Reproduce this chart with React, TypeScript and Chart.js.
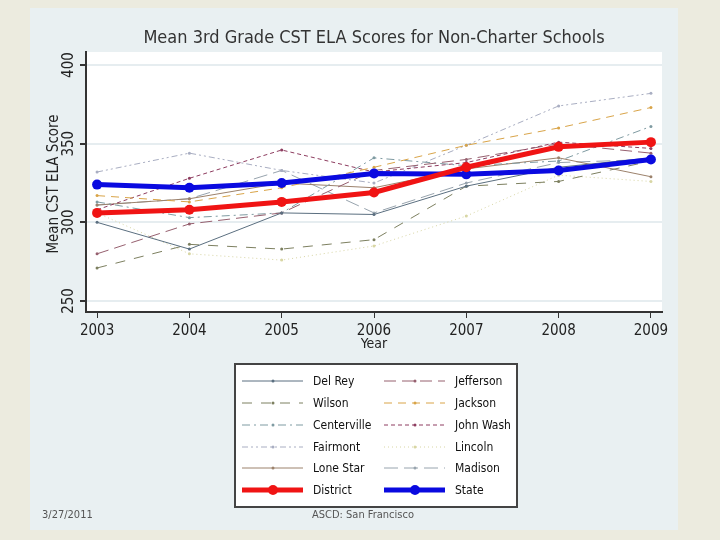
import React, { useEffect, useRef } from "react";
import { Chart, registerables } from "chart.js";

Chart.register(...registerables);

const years = [2003, 2004, 2005, 2006, 2007, 2008, 2009];
const yTicks = [250, 300, 350, 400];

const schoolNames = [
  "Del Rey", "Jefferson", "Wilson", "Jackson", "Centerville", "John Wash",
  "Fairmont", "Lincoln", "Lone Star", "Madison",
];

const delRey = [300, 283, 306, 305, 323, 335, 341];
const jefferson = [280, 299, 306, 333, 340, 350, 344];
const wilson = [271, 286, 283, 289, 323, 326, 339];
const jackson = [317, 313, 322, 335, 349, 360, 373];
const centerville = [313, 303, 306, 341, 336, 339, 361];
const johnWash = [308, 328, 346, 332, 338, 351, 347];
const fairmont = [332, 344, 333, 325, 349, 374, 382];
const lincoln = [306, 280, 276, 285, 304, 330, 326];
const loneStar = [311, 315, 325, 322, 334, 341, 329];
const madison = [311, 315, 333, 306, 325, 338, 340];
const district = [306, 308, 313, 319, 335, 348, 351];
const state = [324, 322, 325, 331, 330.5, 333, 340];

const schoolValues = [delRey, jefferson, wilson, jackson, centerville, johnWash, fairmont, lincoln, loneStar, madison];
const schoolColors = ["#5b6f80", "#96606f", "#7d8060", "#d9a448", "#7f9ba2", "#8e3d60", "#a9aec2", "#d8d6a4", "#9c826c", "#98a4ae"];
const schoolDashes: number[][] = [[], [12, 6], [10, 9], [8, 6], [8, 4, 2, 4], [4, 3], [6, 3, 2, 3, 2, 3], [1, 3], [], [14, 6]];

const FONT = "'Liberation Sans Narrow', 'DejaVu Sans Condensed', 'Liberation Sans', sans-serif";

export default function App() {
  const ref = useRef<HTMLCanvasElement | null>(null);

  useEffect(() => {
    if (!ref.current) return;
    const datasets: any[] = schoolNames.map((name, i) => ({
      label: name,
      data: years.map((y, j) => ({ x: y, y: schoolValues[i][j] })),
      borderColor: schoolColors[i],
      backgroundColor: schoolColors[i],
      borderWidth: 1,
      borderDash: schoolDashes[i],
      pointRadius: 1.5,
      pointBorderWidth: 0,
      tension: 0,
      order: 1,
    }));
    datasets.push({
      label: "District",
      data: years.map((y, j) => ({ x: y, y: district[j] })),
      borderColor: "#f01414",
      backgroundColor: "#f01414",
      borderWidth: 5,
      pointRadius: 5,
      pointBorderWidth: 0,
      order: 0,
    });
    datasets.push({
      label: "State",
      data: years.map((y, j) => ({ x: y, y: state[j] })),
      borderColor: "#0a0ae0",
      backgroundColor: "#0a0ae0",
      borderWidth: 5,
      pointRadius: 5,
      pointBorderWidth: 0,
      order: 0,
    });

    const decor = {
      id: "decor",
      beforeDraw(chart: any) {
        const { ctx, chartArea: a } = chart;
        ctx.save();
        ctx.fillStyle = "#ffffff";
        ctx.fillRect(a.left, a.top, a.right - a.left, a.bottom - a.top);
        ctx.restore();
      },
      afterDraw(chart: any) {
        const { ctx, chartArea: a } = chart;
        const ys = chart.scales.y;
        ctx.save();
        // title
        ctx.fillStyle = "#333333";
        ctx.font = `18px ${FONT}`;
        ctx.textAlign = "center";
        ctx.textBaseline = "middle";
        ctx.fillText("Mean 3rd Grade CST ELA Scores for Non-Charter Schools", (a.left + a.right) / 2, 30);
        // y tick labels rotated
        ctx.fillStyle = "#222222";
        ctx.font = `15px ${FONT}`;
        ys.ticks.forEach((t: any) => {
          const py = ys.getPixelForValue(t.value);
          ctx.save();
          ctx.translate(a.left - 17, py);
          ctx.rotate(-Math.PI / 2);
          ctx.fillText(String(t.value), 0, 0);
          ctx.restore();
        });
        // y title
        ctx.save();
        ctx.translate(a.left - 32, (a.top + a.bottom) / 2 + 2);
        ctx.rotate(-Math.PI / 2);
        ctx.font = `15px ${FONT}`;
        ctx.fillText("Mean CST ELA Score", 0, 0);
        ctx.restore();
        // x title
        ctx.font = `14px ${FONT}`;
        ctx.fillText("Year", (a.left + a.right) / 2, a.bottom + 32);

        // legend
        const bx = 205, by = 356, bw = 282, bh = 143;
        ctx.fillStyle = "#ffffff";
        ctx.fillRect(bx, by, bw, bh);
        ctx.strokeStyle = "#444444";
        ctx.lineWidth = 2;
        ctx.strokeRect(bx, by, bw, bh);
        const ds = chart.data.datasets;
        const rowY = [373, 395, 417, 439, 460, 482];
        ds.forEach((d: any, k: number) => {
          const col = k % 2;
          const row = Math.floor(k / 2);
          const x0 = col === 0 ? 212 : 354;
          const y0 = rowY[row];
          ctx.save();
          ctx.strokeStyle = d.borderColor;
          ctx.lineWidth = d.borderWidth;
          ctx.setLineDash(d.borderDash || []);
          ctx.beginPath();
          ctx.moveTo(x0, y0);
          ctx.lineTo(x0 + 61, y0);
          ctx.stroke();
          ctx.setLineDash([]);
          ctx.fillStyle = d.backgroundColor;
          ctx.beginPath();
          ctx.arc(x0 + 31, y0, d.pointRadius, 0, Math.PI * 2);
          ctx.fill();
          ctx.restore();
          ctx.fillStyle = "#111111";
          ctx.font = `12px ${FONT}`;
          ctx.textAlign = "left";
          ctx.textBaseline = "middle";
          ctx.fillText(d.label, x0 + 71, y0 + 1);
        });
        ctx.restore();
      },
    };

    const chart = new Chart(ref.current, {
      type: "line",
      data: { datasets },
      options: {
        animation: false,
        responsive: false,
        devicePixelRatio: 1,
        layout: { padding: { left: 0, top: 44, right: 16, bottom: 178 } },
        plugins: { legend: { display: false }, tooltip: { enabled: false }, title: { display: false } },
        scales: {
          x: {
            type: "linear",
            min: 2002.88,
            max: 2009.12,
            afterBuildTicks: (s: any) => { s.ticks = years.map((v) => ({ value: v })); },
            afterFit: (s: any) => { s.height = 40; },
            grid: { drawOnChartArea: false, drawTicks: true, tickLength: 6, tickColor: "#333333", lineWidth: 1 },
            border: { display: true, color: "#333333", width: 2 },
            ticks: { color: "#222222", font: { family: FONT, size: 15 }, padding: 4, maxRotation: 0, callback: (v: any) => String(v) },
          },
          y: {
            type: "linear",
            min: 243,
            max: 408.3,
            afterBuildTicks: (s: any) => { s.ticks = yTicks.map((v) => ({ value: v })); },
            afterFit: (s: any) => { s.width = 56; },
            grid: { color: "#e6edf0", lineWidth: 2, drawTicks: true, tickLength: 6, tickColor: "#333333" },
            border: { display: true, color: "#333333", width: 2 },
            ticks: { display: false },
          },
        },
      } as any,
      plugins: [decor],
    });
    return () => chart.destroy();
  }, []);

  return (
    <div style={{ position: "fixed", left: 0, top: 0, width: 720, height: 540, background: "#ecebdf" }}>
      <div style={{ position: "absolute", left: 30, top: 8, width: 648, height: 522, background: "#e9f0f2" }}>
        <canvas ref={ref} width={648} height={522} style={{ position: "absolute", left: 0, top: 0 }} />
        <div style={{ position: "absolute", left: 12, top: 500, fontFamily: FONT, fontSize: 11, color: "#555" }}>3/27/2011</div>
        <div style={{ position: "absolute", left: 282, top: 500, fontFamily: FONT, fontSize: 11, color: "#555" }}>ASCD: San Francisco</div>
      </div>
    </div>
  );
}
